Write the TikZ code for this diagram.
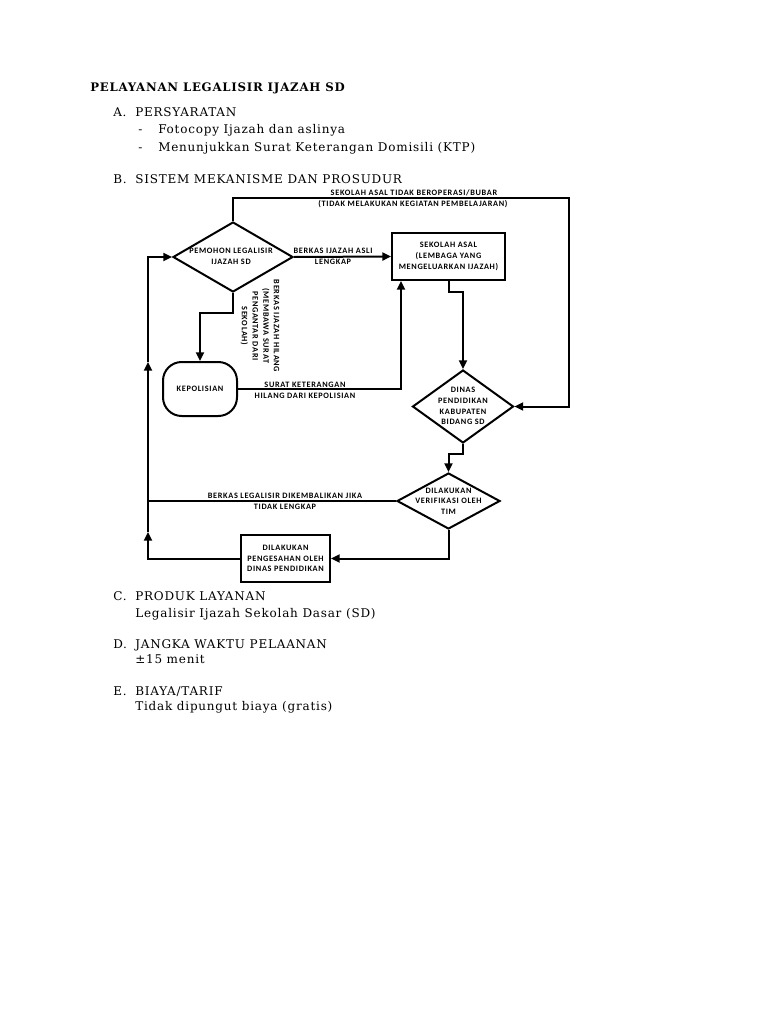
\documentclass[tikz,border=0pt]{standalone}
\usepackage{fontspec}
\setmainfont[LetterSpace=6.5]{DejaVu Serif}
\newfontfamily\flowfont[LetterSpace=8]{Carlito}
\usetikzlibrary{shapes.geometric,arrows.meta,positioning}

\begin{document}
\begin{tikzpicture}[x=0.75pt,y=-0.75pt,
    flow/.style={line width=1.5pt},
    arr/.style={flow,-{Triangle[length=6.5pt,width=6pt]}},
    lbl/.style={inner sep=0pt,align=center,font=\flowfont\bfseries\fontsize{6.2}{8}\selectfont},
    box/.style={lbl,draw,line width=1.5pt},
    dia/.style={draw,diamond,line width=1.5pt,inner sep=0pt},
    body/.style={anchor=base west,inner sep=0pt,font=\fontsize{9}{11}\selectfont}]
    \fill[white] (0,0) rectangle (768,1024);
    \useasboundingbox (0,0) rectangle (768,1024);
    % text above the chart
    \node[body,font=\bfseries\fontsize{8.8}{11}\selectfont] (judul) at (90,92) {PELAYANAN LEGALISIR IJAZAH SD};
    \node[body] (a) at (113,117) {A.};
    \node[body] (a-t) at (135,117) {PERSYARATAN};
    \node[body] (a1) at (138,133) {-};
    \node[body] (a1-t) at (158,133) {Fotocopy Ijazah dan aslinya};
    \node[body] (a2) at (138,151) {-};
    \node[body] (a2-t) at (158,151) {Menunjukkan Surat Keterangan Domisili (KTP)};
    \node[body] (b) at (113,183) {B.};
    \node[body] (b-t) at (135,183) {SISTEM MEKANISME DAN PROSUDUR};
    % chart
    \node[dia,minimum width=90pt,minimum height=52.5pt] (pemohon) at (233,257) {};
    \node[lbl] (pemohon-t) at (231,256) {PEMOHON LEGALISIR\\IJAZAH SD};
    \node[box,minimum width=84.75pt,minimum height=35.25pt] (sekolah) at (448.5,256.5) {SEKOLAH ASAL\\(LEMBAGA YANG\\MENGELUARKAN IJAZAH)};
    \node[box,rounded corners=14pt,minimum width=55.5pt,minimum height=40.5pt] (polisi) at (200,389) {KEPOLISIAN};
    \node[dia,minimum width=75.75pt,minimum height=54.75pt] (dinas) at (463,406.5) {};
    \node[lbl] (dinas-t) at (463,406) {DINAS\\PENDIDIKAN\\KABUPATEN\\BIDANG SD};
    \node[dia,minimum width=77.25pt,minimum height=42pt] (verif) at (448.5,501) {};
    \node[lbl] (verif-t) at (448.5,501) {DILAKUKAN\\VERIFIKASI OLEH\\TIM};
    \node[box,minimum width=66.75pt,minimum height=35.25pt] (sah) at (285.5,558.5) {DILAKUKAN\\PENGESAHAN OLEH\\DINAS PENDIDIKAN};
    \coordinate (atas) at (569,198);
    \coordinate (k1) at (148,532);
    \coordinate (k2) at (148,362);
    % connectors
    \draw[arr] (pemohon.north) |- (atas) |- (dinas.east);
    \node[lbl] (bubar1) at (414,193) {SEKOLAH ASAL TIDAK BEROPERASI/BUBAR};
    \node[lbl] (bubar2) at (413,204) {(TIDAK MELAKUKAN KEGIATAN PEMBELAJARAN)};
    \draw[arr] (pemohon.east) -- (sekolah.west);
    \node[lbl] (asli1) at (333,251) {BERKAS IJAZAH ASLI};
    \node[lbl] (asli2) at (333,262) {LENGKAP};
    \draw[arr] (pemohon.south) -- ++(0,20) -| (polisi.north);
    \node[lbl,rotate=-90] (hilang) at (260,326) {BERKAS IJAZAH HILANG\\(MEMBAWA SURAT\\PENGANTAR DARI\\SEKOLAH)};
    \draw[arr] (polisi.east) -| ([xshift=7.5pt]sekolah.south west);
    \node[lbl] (ket1) at (305,385) {SURAT KETERANGAN};
    \node[lbl] (ket2) at (305,396) {HILANG DARI KEPOLISIAN};
    \draw[arr] (sekolah.south) -- ++(0,11) -| (dinas.north);
    \draw[arr] (dinas.south) -- ++(0,10) -| (verif.north);
    \draw[arr] (verif.south) |- (sah.east);
    \draw[flow] (verif.west) -- (verif.west -| k1);
    \node[lbl] (kembali1) at (285,496) {BERKAS LEGALISIR DIKEMBALIKAN JIKA};
    \node[lbl] (kembali2) at (285,507) {TIDAK LENGKAP};
    \draw[arr] (sah.west) -| (k1);
    \draw[arr] (k1) -- (k2);
    \draw[arr] (k2) |- (pemohon.west);
    % text below the chart
    \node[body] (c) at (113,600) {C.};
    \node[body] (c-t) at (135,600) {PRODUK LAYANAN};
    \node[body] (c1) at (135,617) {Legalisir Ijazah Sekolah Dasar (SD)};
    \node[body] (d) at (113,648) {D.};
    \node[body] (d-t) at (135,648) {JANGKA WAKTU PELAANAN};
    \node[body] (d1) at (135,663) {±15 menit};
    \node[body] (e) at (113,695) {E.};
    \node[body] (e-t) at (135,695) {BIAYA/TARIF};
    \node[body] (e1) at (135,710) {Tidak dipungut biaya (gratis)};
\end{tikzpicture}
\end{document}
